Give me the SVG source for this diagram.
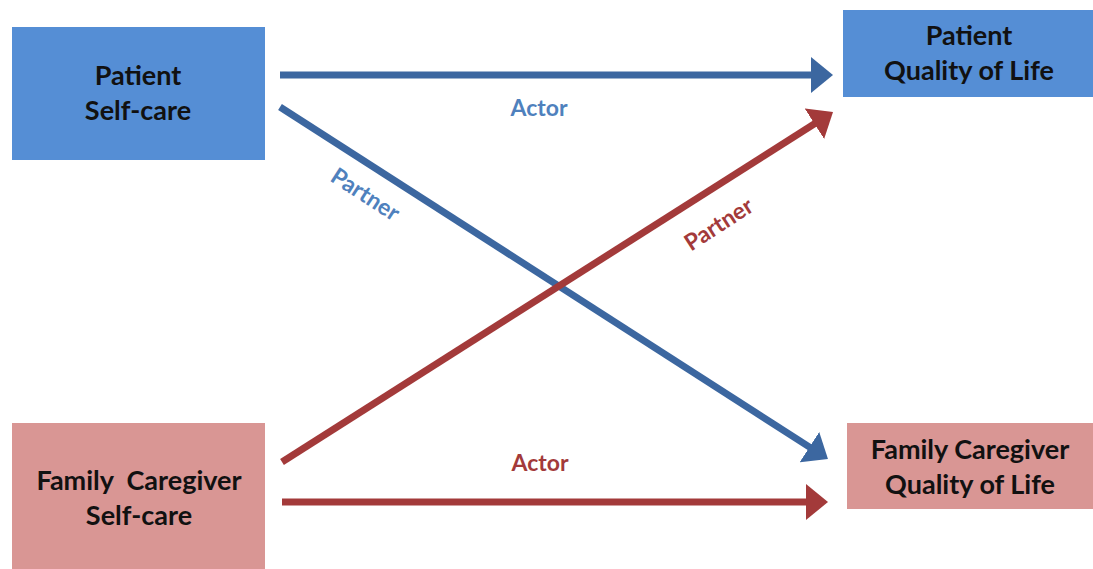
<svg xmlns="http://www.w3.org/2000/svg" width="1093" height="569" viewBox="0 0 1093 569">
<style>
.blue{fill:#558ed5}
.red{fill:#d99694}
.t{font-family:Lato,"Liberation Sans",sans-serif;font-weight:bold;font-size:27px;fill:#111;text-anchor:middle}
.lb{font-family:Lato,"Liberation Sans",sans-serif;font-weight:bold;font-size:23px;text-anchor:middle}
.cb{stroke:#3c67a0;stroke-width:7;fill:none}
.cr{stroke:#a33a3a;stroke-width:7;fill:none}
</style>
<defs>
<marker id="ab" viewBox="0 0 22 36" refX="8" refY="18" markerWidth="22" markerHeight="36" markerUnits="userSpaceOnUse" orient="auto"><path d="M0,0L22,18L0,36z" fill="#3c67a0"/></marker>
<marker id="ar" viewBox="0 0 22 36" refX="8" refY="18" markerWidth="22" markerHeight="36" markerUnits="userSpaceOnUse" orient="auto"><path d="M0,0L22,18L0,36z" fill="#a33a3a"/></marker>
</defs>
<rect width="1093" height="569" fill="#fff"/>
<g id="patient-selfcare"><rect class="blue" x="12" y="27" width="253" height="133"/><text class="t" x="138" y="85">Patient</text><text class="t" x="138" y="120">Self-care</text></g>
<g id="patient-qol"><rect class="blue" x="843" y="10" width="250" height="87"/><text class="t" x="969" y="45">Patient</text><text class="t" x="969" y="80">Quality of Life</text></g>
<g id="fc-selfcare"><rect class="red" x="12" y="423" width="253" height="146"/><text class="t" x="139" y="490" xml:space="preserve">Family  Caregiver</text><text class="t" x="139" y="525">Self-care</text></g>
<g id="fc-qol"><rect class="red" x="847" y="423" width="246" height="86"/><text class="t" x="970" y="459">Family Caregiver</text><text class="t" x="970" y="494">Quality of Life</text></g>
<g id="connectors">
<line class="cb" x1="280" y1="75" x2="819" y2="75" marker-end="url(#ab)"/>
<line class="cb" x1="280" y1="107" x2="816.2" y2="451.4" marker-end="url(#ab)"/>
<line class="cr" x1="282" y1="462" x2="821.2" y2="119.5" marker-end="url(#ar)"/>
<line class="cr" x1="282" y1="502" x2="814" y2="502" marker-end="url(#ar)"/>
<text class="lb" x="539" y="116" fill="#4f81bd">Actor</text>
<text class="lb" x="540" y="471" fill="#a33a3a">Actor</text>
<text class="lb" x="0" y="0" fill="#4f81bd" transform="translate(361,201) rotate(33)">Partner</text>
<text class="lb" x="0" y="0" fill="#a33a3a" transform="translate(723,231) rotate(-33)">Partner</text>
</g>
</svg>
